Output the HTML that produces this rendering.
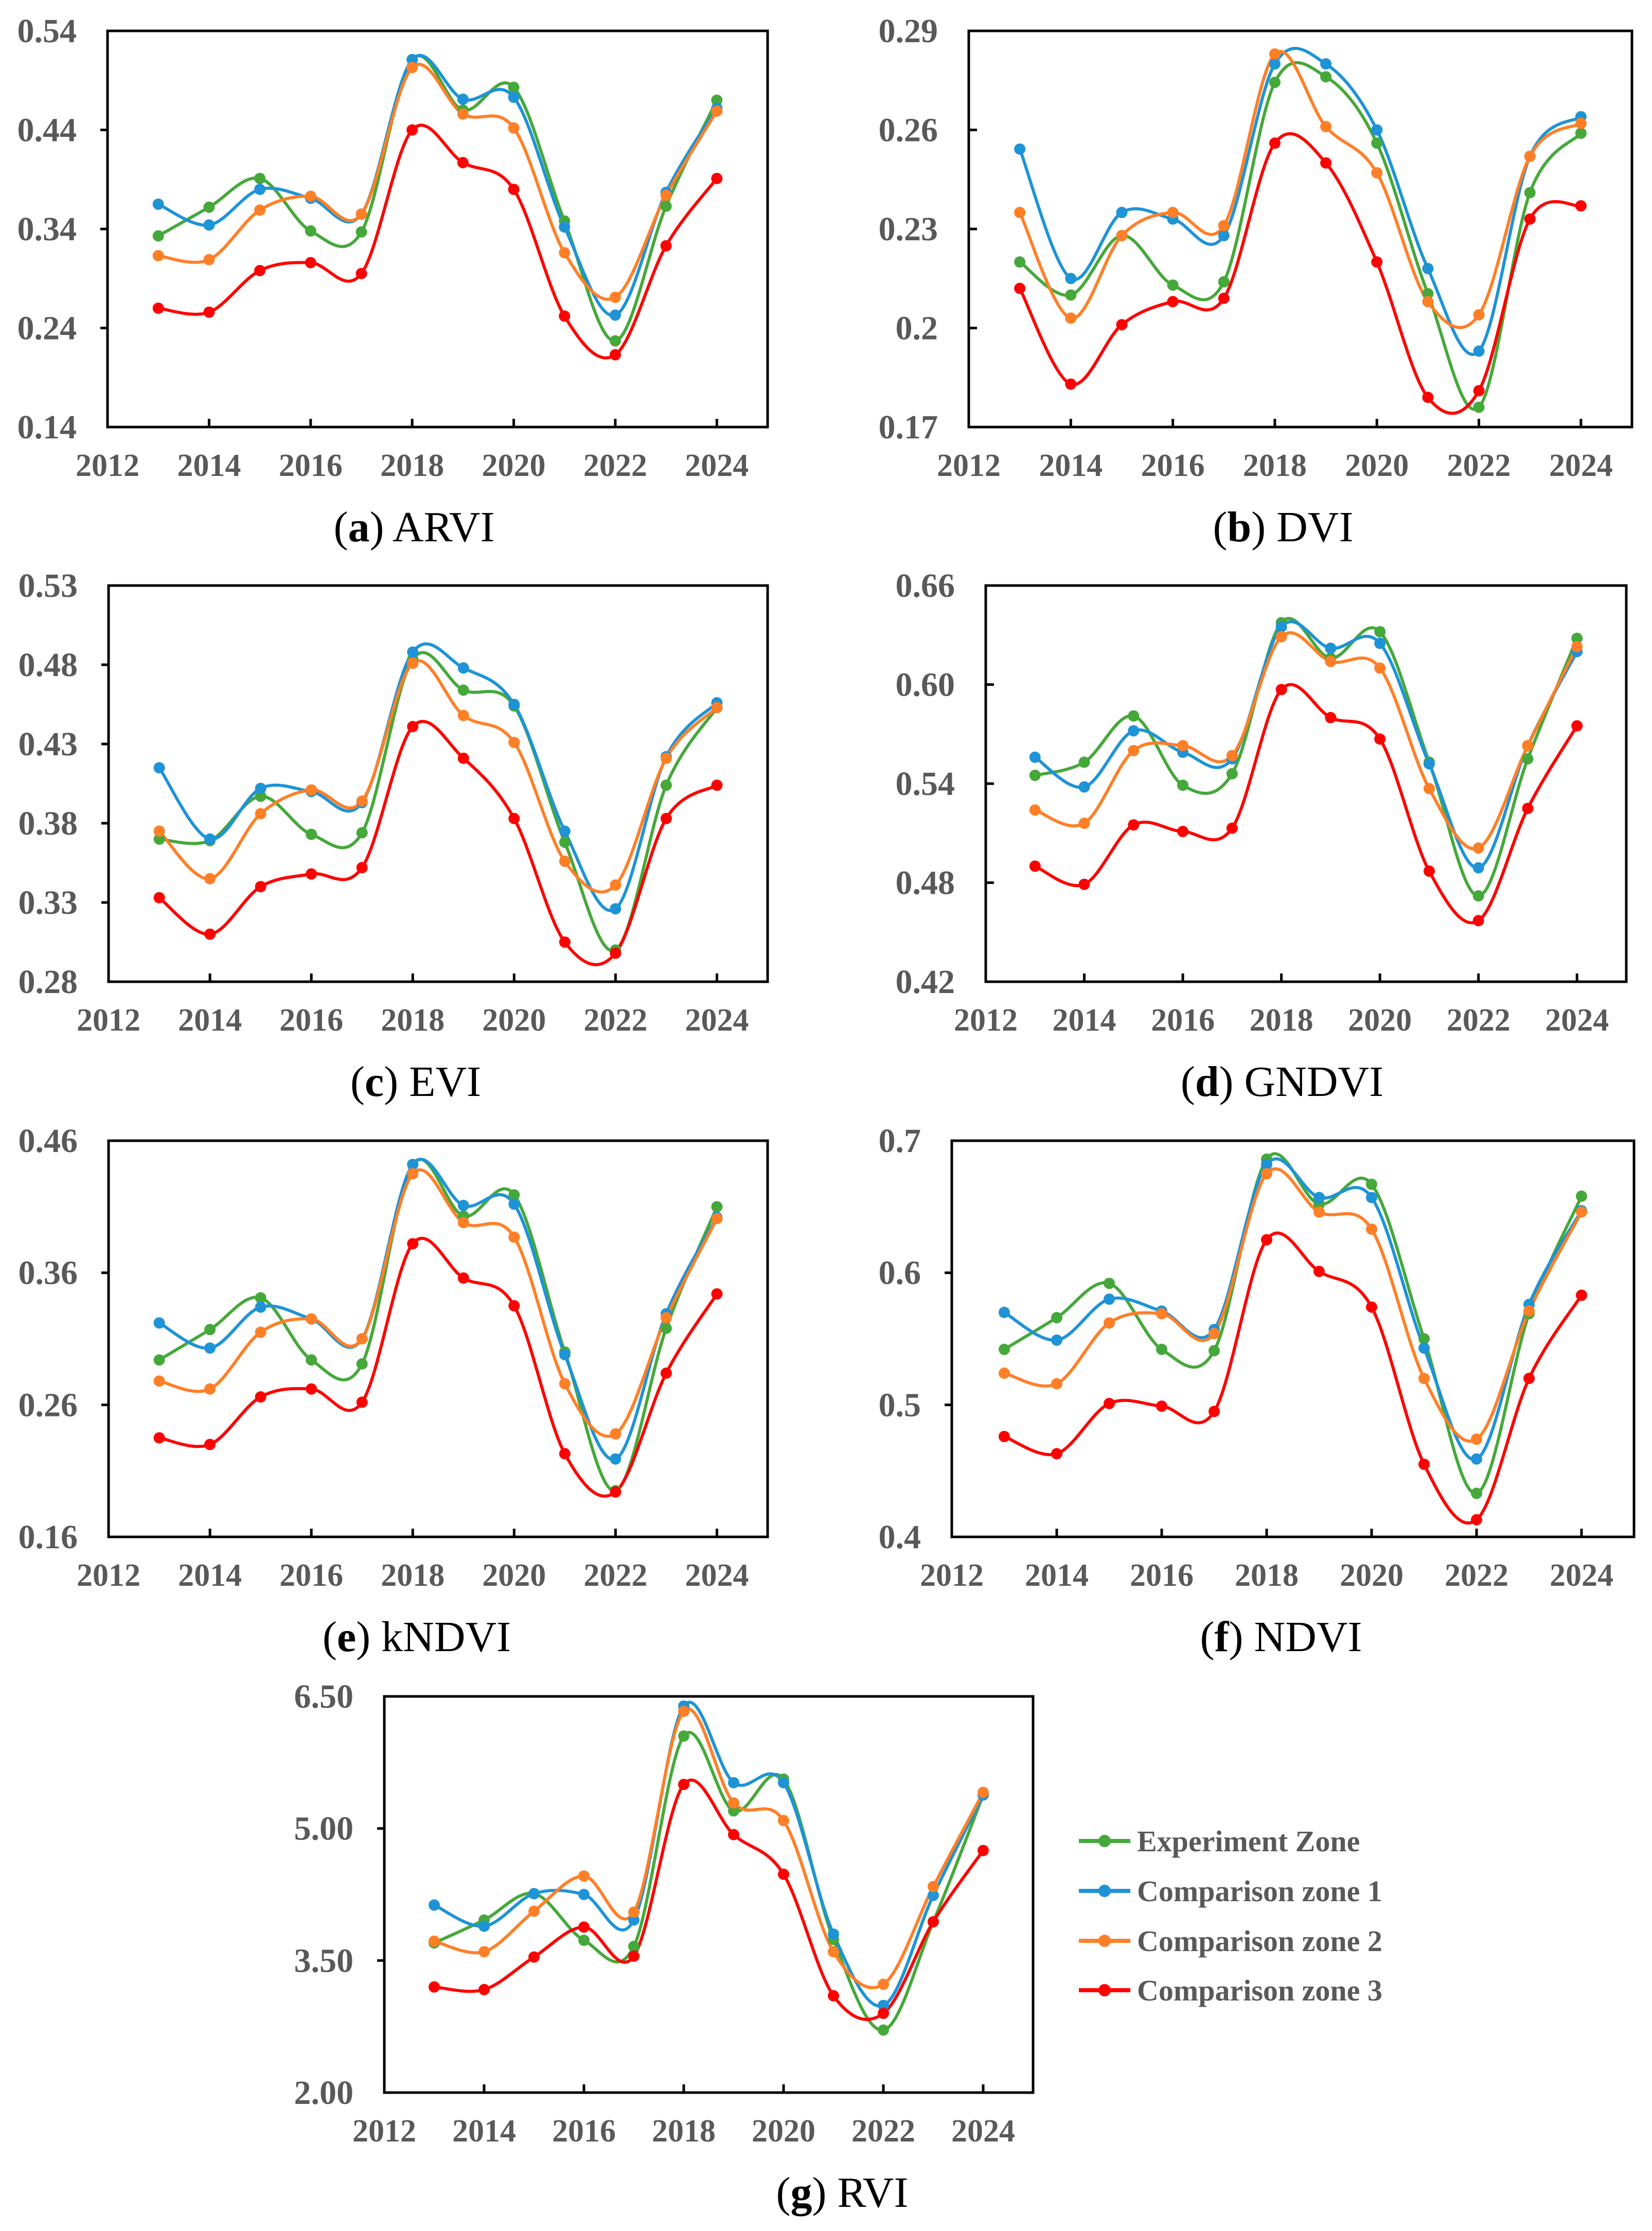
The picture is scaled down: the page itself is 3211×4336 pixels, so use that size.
<!DOCTYPE html>
<html><head><meta charset="utf-8"><style>
html,body{margin:0;padding:0;background:#fff}
svg{display:block}
</style></head><body>
<svg id="fig" xmlns="http://www.w3.org/2000/svg" width="3211" height="4336" viewBox="0 0 3211 4336">
<rect x="0" y="0" width="3211" height="4336" fill="#fff"/>
<g id="legend"></g>
</svg>
<script>
const years = [2013,2014,2015,2016,2017,2018,2019,2020,2021,2022,2023,2024];
const seriesNames = ["Experiment Zone","Comparison zone 1","Comparison zone 2","Comparison zone 3"];
const seriesColors = ["#45A83A","#1E93D6","#FF7F27","#FF0000"];

const arviExp = [0.333,0.362,0.391,0.338,0.337,0.511,0.460,0.483,0.348,0.227,0.363,0.470];
const arviC1  = [0.365,0.344,0.380,0.371,0.355,0.511,0.471,0.473,0.342,0.253,0.377,0.462];
const arviC2  = [0.313,0.309,0.359,0.373,0.355,0.503,0.456,0.442,0.316,0.271,0.374,0.459];
const arviC3  = [0.260,0.256,0.298,0.306,0.295,0.440,0.407,0.380,0.252,0.213,0.323,0.391];
const arviTicks = ["0.14","0.24","0.34","0.44","0.54"];

const dviExp = [0.220,0.210,0.228,0.213,0.214,0.2744,0.2761,0.256,0.2104,0.176,0.241,0.259];
const dviC1  = [0.2542,0.215,0.235,0.233,0.228,0.280,0.280,0.260,0.218,0.193,0.252,0.264];
const dviC2  = [0.235,0.203,0.228,0.235,0.231,0.283,0.261,0.247,0.208,0.204,0.252,0.262];
const dviC3  = [0.212,0.183,0.201,0.208,0.209,0.256,0.250,0.220,0.179,0.181,0.233,0.237];
const dviTicks = ["0.17","0.2","0.23","0.26","0.29"];

const eviExp = [0.370,0.369,0.397,0.373,0.374,0.4835,0.464,0.454,0.368,0.300,0.404,0.453];
const eviC1  = [0.415,0.370,0.402,0.400,0.393,0.488,0.478,0.455,0.375,0.326,0.422,0.456];
const eviC2  = [0.375,0.345,0.386,0.401,0.394,0.481,0.448,0.431,0.356,0.341,0.421,0.453];
const eviC3  = [0.333,0.310,0.340,0.348,0.352,0.441,0.421,0.383,0.305,0.298,0.383,0.404];
const eviTicks = ["0.28","0.33","0.38","0.43","0.48","0.53"];

const gndviExp = [0.545,0.553,0.581,0.539,0.546,0.6375,0.616,0.632,0.553,0.472,0.555,0.628];
const gndviC1  = [0.556,0.538,0.572,0.559,0.555,0.635,0.622,0.625,0.552,0.489,0.563,0.620];
const gndviC2  = [0.524,0.516,0.560,0.563,0.557,0.629,0.614,0.610,0.537,0.501,0.563,0.623];
const gndviC3  = [0.490,0.479,0.515,0.511,0.513,0.597,0.580,0.567,0.487,0.457,0.525,0.575];
const gndviTicks = ["0.42","0.48","0.54","0.60","0.66"];

const kndviExp = [0.294,0.317,0.341,0.294,0.291,0.442,0.403,0.419,0.300,0.195,0.318,0.410];
const kndviC1  = [0.322,0.303,0.334,0.325,0.310,0.442,0.411,0.412,0.298,0.219,0.329,0.402];
const kndviC2  = [0.278,0.272,0.315,0.325,0.310,0.435,0.398,0.387,0.276,0.238,0.326,0.401];
const kndviC3  = [0.235,0.230,0.266,0.272,0.262,0.382,0.356,0.335,0.223,0.194,0.284,0.344];
const kndviTicks = ["0.16","0.26","0.36","0.46"];

const ndviExp = [0.542,0.566,0.592,0.542,0.541,0.686,0.652,0.667,0.550,0.433,0.569,0.658];
const ndviC1  = [0.570,0.549,0.580,0.571,0.557,0.682,0.657,0.657,0.543,0.459,0.576,0.647];
const ndviC2  = [0.524,0.516,0.562,0.569,0.554,0.675,0.646,0.633,0.520,0.474,0.571,0.646];
const ndviC3  = [0.476,0.463,0.501,0.499,0.495,0.625,0.601,0.574,0.455,0.413,0.520,0.583];
const ndviTicks = ["0.4","0.5","0.6","0.7"];

const rviExp = [3.70,3.96,4.26,3.73,3.66,6.05,5.20,5.56,3.74,2.71,3.94,5.38];
const rviC1  = [4.13,3.89,4.26,4.25,3.96,6.39,5.52,5.52,3.80,2.99,4.24,5.38];
const rviC2  = [3.72,3.60,4.06,4.46,4.05,6.33,5.29,5.09,3.60,3.23,4.34,5.41];
const rviC3  = [3.20,3.17,3.54,3.88,3.55,5.50,4.93,4.48,3.10,2.90,3.94,4.75];
const rviTicks = ["2.00","3.50","5.00","6.50"];

const xTickYears = [2012,2014,2016,2018,2020,2022,2024];

const NS = "http://www.w3.org/2000/svg";
const svg = document.getElementById("fig");
function mk(tag, attrs, parent){
  const e = document.createElementNS(NS, tag);
  for (const k in attrs) e.setAttribute(k, attrs[k]);
  (parent||svg).appendChild(e);
  return e;
}

const panels = [
  {id:"arvi", letter:"a", label:"ARVI", series:[arviExp,arviC1,arviC2,arviC3], ticks:arviTicks, left:209, right:1492, top:60, inward:false, cap:805},
  {id:"dvi", letter:"b", label:"DVI", series:[dviExp,dviC1,dviC2,dviC3], ticks:dviTicks, left:1883, right:3172, top:60, inward:true, cap:2494},
  {id:"evi", letter:"c", label:"EVI", series:[eviExp,eviC1,eviC2,eviC3], ticks:eviTicks, left:211, right:1492, top:1138, inward:false, cap:808},
  {id:"gndvi", letter:"d", label:"GNDVI", series:[gndviExp,gndviC1,gndviC2,gndviC3], ticks:gndviTicks, left:1916, right:3161, top:1138, inward:true, cap:2492},
  {id:"kndvi", letter:"e", label:"kNDVI", series:[kndviExp,kndviC1,kndviC2,kndviC3], ticks:kndviTicks, left:211, right:1492, top:2217, inward:false, cap:810},
  {id:"ndvi", letter:"f", label:"NDVI", series:[ndviExp,ndviC1,ndviC2,ndviC3], ticks:ndviTicks, left:1850, right:3176, top:2217, inward:false, cap:2490},
  {id:"rvi", letter:"g", label:"RVI", series:[rviExp,rviC1,rviC2,rviC3], ticks:rviTicks, left:747, right:2008, top:3297, inward:false, cap:1637}
];
const PH = 770;

function smoothPath(pts){
  let d = "M" + pts[0][0].toFixed(1) + "," + pts[0][1].toFixed(1);
  for (let i=0;i<pts.length-1;i++){
    const p0 = pts[i-1]||pts[i], p1 = pts[i], p2 = pts[i+1], p3 = pts[i+2]||pts[i+1];
    const c1x = p1[0]+(p2[0]-p0[0])/6, c1y = p1[1]+(p2[1]-p0[1])/6;
    const c2x = p2[0]-(p3[0]-p1[0])/6, c2y = p2[1]-(p3[1]-p1[1])/6;
    d += " C"+c1x.toFixed(1)+","+c1y.toFixed(1)+" "+c2x.toFixed(1)+","+c2y.toFixed(1)+" "+p2[0].toFixed(1)+","+p2[1].toFixed(1);
  }
  return d;
}

panels.forEach(p => {
  const g = mk("g", {});
  
  
  const bottom = p.top + PH;
  const tv = p.ticks.map(Number);
  const vmin = tv[0], vmax = tv[tv.length-1];
  const step = (p.right - p.left)/13;
  const xs = yr => p.left + (yr-2012)*step;
  const ys = v => bottom - (v - vmin)/(vmax - vmin)*PH;

  p.series.forEach((vals, si) => {
    const pts = vals.map((v,i) => [xs(years[i]), ys(v)]);
    const path = mk("path", {d: smoothPath(pts), fill:"none", stroke:seriesColors[si], "stroke-width":6, "stroke-linejoin":"round"}, g);
    
    
  });
  p.series.forEach((vals, si) => {
    vals.forEach((v,i) => {
      const c = mk("circle", {cx:xs(years[i]), cy:ys(v), r:11, fill:seriesColors[si]}, g);
      
      
    });
  });

  const fr = mk("rect", {x:p.left, y:p.top, width:p.right-p.left, height:PH, fill:"none", stroke:"#000", "stroke-width":5}, g);
  
  

  p.ticks.forEach((t, i) => {
    const y = ys(tv[i]);
    if (i>0 && i<p.ticks.length-1){
      const x2 = p.inward ? p.left+16 : p.left-14;
      mk("line", {x1:p.left, y1:y, x2:x2, y2:y, stroke:"#000", "stroke-width":5}, g);
    }
    const tx = mk("text", {x:p.left-60, y:y+22, "text-anchor":"end", "font-family":"Liberation Serif, serif", "font-weight":"bold", "font-size":66, fill:"#595959"}, g);
    tx.textContent = t;
    
    
  });
  xTickYears.forEach(yr => {
    const x = xs(yr);
    if (yr>2012) mk("line", {x1:x, y1:bottom, x2:x, y2:bottom-16, stroke:"#000", "stroke-width":5}, g);
    const tx = mk("text", {x:x, y:bottom+95, "text-anchor":"middle", "font-family":"Liberation Serif, serif", "font-weight":"bold", "font-size":62, fill:"#595959"}, g);
    tx.textContent = String(yr);
    
    
  });
  const cap = mk("text", {x:p.cap, y:p.top+992, "text-anchor":"middle", "font-family":"Liberation Serif, serif", "font-size":84, fill:"#000"}, g);
  
  
  const t1 = mk("tspan", {}, cap); t1.textContent = "(";
  const t2 = mk("tspan", {"font-weight":"bold"}, cap); t2.textContent = p.letter;
  const t3 = mk("tspan", {}, cap); t3.textContent = ") " + p.label;
});

const legend = document.getElementById("legend");
const legendY = [3578,3675,3772,3868];
seriesNames.forEach((n, i) => {
  const it = mk("g", {}, legend);
  
  
  mk("line", {x1:2097, y1:legendY[i], x2:2197, y2:legendY[i], stroke:seriesColors[i], "stroke-width":8}, it);
  mk("circle", {cx:2147, cy:legendY[i], r:12, fill:seriesColors[i]}, it);
  const tx = mk("text", {x:2210, y:legendY[i]+20, "font-family":"Liberation Serif, serif", "font-weight":"bold", "font-size":58, fill:"#595959"}, it);
  tx.textContent = n;
});
</script>
</body></html>
